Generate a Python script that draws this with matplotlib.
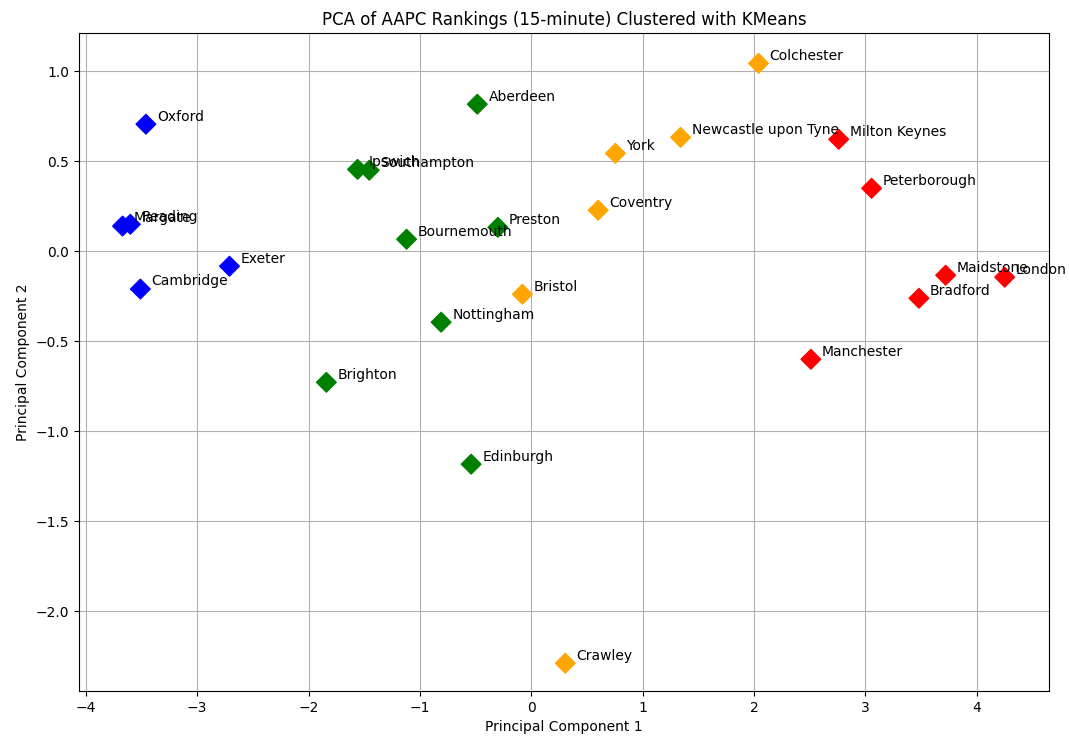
import matplotlib
matplotlib.use('Agg')
import matplotlib.pyplot as plt

# cities, PCA coordinates and cluster labels
cities = ['Oxford', 'Reading', 'Margate', 'Cambridge', 'Exeter',
          'Aberdeen', 'Ipswich', 'Southampton', 'Bournemouth', 'Preston',
          'Nottingham', 'Brighton', 'Edinburgh',
          'Colchester', 'Newcastle upon Tyne', 'York', 'Coventry', 'Bristol', 'Crawley',
          'Milton Keynes', 'Peterborough', 'Maidstone', 'London', 'Bradford', 'Manchester']
pc1 = [-3.46, -3.60, -3.67, -3.51, -2.71,
       -0.485, -1.56, -1.455, -1.12, -0.30,
       -0.81, -1.84, -0.54,
       2.04, 1.34, 0.755, 0.60, -0.08, 0.305,
       2.76, 3.055, 3.72, 4.25, 3.48, 2.51]
pc2 = [0.706, 0.15, 0.14, -0.21, -0.083,
       0.817, 0.455, 0.45, 0.067, 0.133,
       -0.394, -0.728, -1.183,
       1.044, 0.633, 0.544, 0.228, -0.239, -2.289,
       0.622, 0.35, -0.133, -0.144, -0.261, -0.60]
clusters = [0] * 5 + [1] * 8 + [2] * 6 + [3] * 6
cluster_colors = ['blue', 'green', 'orange', 'red']

fig = plt.figure(figsize=(10.69, 7.4), dpi=100)
ax = fig.add_axes([0.074, 0.066, 0.907, 0.889])

colors = [cluster_colors[c] for c in clusters]
ax.scatter(pc1, pc2, c=colors, marker='D', s=100, zorder=3)

# label each point slightly to the right
for name, x, y in zip(cities, pc1, pc2):
    ax.text(x + 0.1, y + 0.02, name, fontsize=10, zorder=4)

ax.set_xlim(-4.06, 4.645)
ax.set_ylim(-2.444, 1.211)
ax.set_title('PCA of AAPC Rankings (15-minute) Clustered with KMeans', fontsize=12)
ax.set_xlabel('Principal Component 1')
ax.set_ylabel('Principal Component 2')
ax.grid(True)

fig.savefig('out.png', dpi=100)
